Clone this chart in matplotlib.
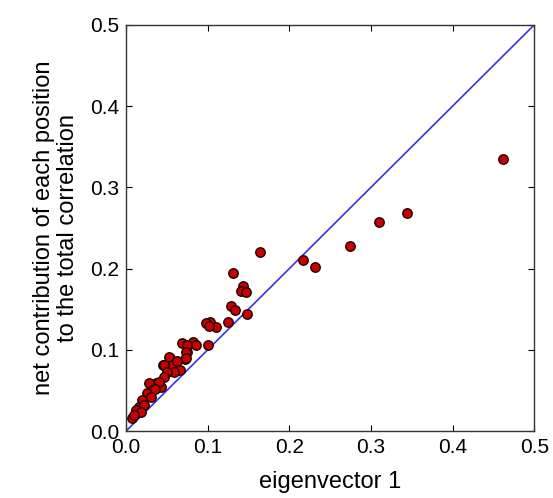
import matplotlib as mpl
import matplotlib.pyplot as plt
import numpy as np

plt.rcParams['font.family'] = ['Liberation Sans', 'DejaVu Sans']

# eigenvector 1 component vs net contribution per position
eig1 = [0.462, 0.344, 0.310, 0.274, 0.232, 0.217, 0.164, 0.131, 0.143, 0.141,
        0.147, 0.129, 0.134, 0.148, 0.125, 0.103, 0.110, 0.098, 0.102, 0.069,
        0.082, 0.086, 0.075, 0.072, 0.100, 0.054, 0.058, 0.045, 0.066, 0.075,
        0.074, 0.074, 0.053, 0.056, 0.047, 0.059, 0.050, 0.047, 0.037, 0.028,
        0.032, 0.026, 0.043, 0.020, 0.016, 0.012, 0.007, 0.022, 0.018, 0.010,
        0.040, 0.035, 0.062, 0.030]
contrib = [0.335, 0.268, 0.257, 0.228, 0.202, 0.210, 0.220, 0.195, 0.178, 0.172,
           0.171, 0.154, 0.149, 0.144, 0.134, 0.134, 0.128, 0.133, 0.129, 0.108,
           0.110, 0.106, 0.097, 0.089, 0.106, 0.090, 0.084, 0.081, 0.075, 0.106,
           0.097, 0.090, 0.091, 0.081, 0.081, 0.073, 0.073, 0.067, 0.059, 0.059,
           0.050, 0.047, 0.054, 0.038, 0.030, 0.026, 0.016, 0.032, 0.023, 0.020,
           0.060, 0.052, 0.086, 0.042]

fig = plt.figure(figsize=(5.53, 4.98), dpi=100)
ax = fig.add_axes([0.228, 0.1345, 0.738, 0.8155])

ax.plot([0, 0.5], [0, 0.5], color='#3434e6', linewidth=1.2, zorder=1)
ax.plot(eig1, contrib, 'o', markersize=6.8, markerfacecolor='#c80000',
        markeredgecolor='#200000', markeredgewidth=1.0, linestyle='none', zorder=2)

ax.set_xlim(0, 0.5)
ax.set_ylim(0, 0.5)
ticks = [0.0, 0.1, 0.2, 0.3, 0.4, 0.5]
ax.set_xticks(ticks)
ax.set_yticks(ticks)
ax.set_xticklabels(['0.0', '0.1', '0.2', '0.3', '0.4', '0.5'])
ax.set_yticklabels(['0.0', '0.1', '0.2', '0.3', '0.4', '0.5'])
ax.tick_params(direction='in', length=4, top=True, right=True, labelsize=15, pad=5)
for s in ax.spines.values():
    s.set_linewidth(1.0)
    s.set_color('#333333')
ax.set_xlabel('eigenvector 1', fontsize=17, labelpad=10)
ax.set_ylabel('net contribution of each position\nto the total correlation',
              fontsize=17, labelpad=8, linespacing=1.1)

plt.savefig('out.png', dpi=100)
